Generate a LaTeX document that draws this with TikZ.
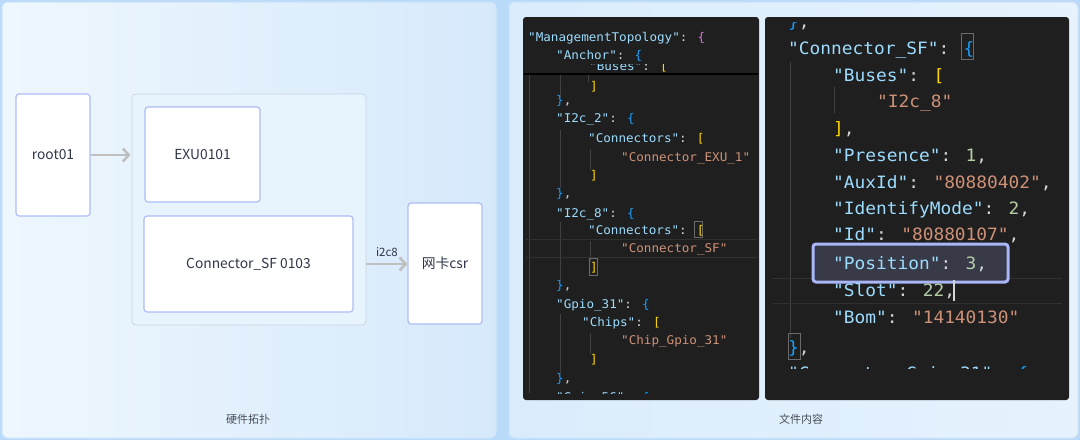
\documentclass[tikz,border=0pt]{standalone}
\usepackage{fontspec}
\setmainfont{Noto Sans CJK SC}
\newfontfamily\codefont[FakeStretch=1.05]{DejaVu Sans Mono}
\usetikzlibrary{positioning,arrows.meta}

\definecolor{bgblue}{HTML}{B9DAF8}
\definecolor{lpA}{HTML}{EEF7FE}
\definecolor{lpB}{HTML}{D6E9FB}
\definecolor{rpA}{HTML}{DAECFC}
\definecolor{rpB}{HTML}{E6F2FD}
\definecolor{panelline}{HTML}{CFE4F8}
\definecolor{boxline}{HTML}{AEBDF6}
\definecolor{grpline}{HTML}{C9D5E1}
\definecolor{grpfill}{HTML}{E7F3FD}
\definecolor{ink}{HTML}{2E3648}
\definecolor{arrowgray}{HTML}{BFBFBF}
\definecolor{captiongray}{HTML}{4A4F5A}
\definecolor{editorbg}{HTML}{1F1F1F}
\definecolor{guidegray}{HTML}{404040}
\definecolor{linegray}{HTML}{303030}
\definecolor{matchgray}{HTML}{6A6A6A}
\definecolor{hlfill}{HTML}{383B47}
\definecolor{hlline}{HTML}{A9B6F7}
\definecolor{ckey}{HTML}{9CDCFE}
\definecolor{cstr}{HTML}{CE9178}
\definecolor{cnum}{HTML}{B5CEA8}
\definecolor{cpun}{HTML}{D4D4D4}
\definecolor{cmag}{HTML}{DA70D6}
\definecolor{cblue}{HTML}{179FFF}
\definecolor{cyel}{HTML}{FFD700}

% json tokens
\newcommand{\jkey}[1]{\textcolor{ckey}{"#1"}\textcolor{cpun}{: }}
\newcommand{\jstr}[1]{\textcolor{cstr}{"#1"}}
\newcommand{\jnum}[1]{\textcolor{cnum}{#1}}
\newcommand{\jp}[1]{\textcolor{cpun}{#1}}
\newcommand{\jbm}[1]{\textcolor{cmag}{#1}}
\newcommand{\jbb}[1]{\textcolor{cblue}{#1}}
\newcommand{\jby}[1]{\textcolor{cyel}{#1}}

\begin{document}
\begin{tikzpicture}[%
	x=1pt, y=-1pt,
	every node/.style={font=\fontsize{13.8}{16}\selectfont, text=ink},
	>=Straight Barb,
	]
	% -------------------------------------------------
	% styles
	\tikzset{
		panel/.style={draw=panelline, line width=1pt, rounded corners=6pt},
		blk/.style={draw=boxline, line width=1.2pt, fill=white, rounded corners=3pt, inner sep=0pt},
		grp/.style={draw=grpline, line width=0.8pt, fill=grpfill, rounded corners=4pt, inner sep=0pt},
		flow/.style={draw=arrowgray, line width=2.6pt, -{Straight Barb[length=6pt, width=13pt]}},
		caption/.style={font=\fontsize{11}{13}\selectfont, text=captiongray},
		editor/.style={fill=editorbg, rounded corners=3pt},
		code/.style={anchor=base west, inner sep=0pt, font=\codefont\fontsize{12}{14}\selectfont},
		bigcode/.style={code, font=\codefont\fontsize{17}{20}\selectfont},
		guide/.style={draw=guidegray, line width=0.8pt},
		curline/.style={draw=linegray, line width=0.8pt},
		match/.style={draw=matchgray, line width=0.8pt},
	}

	\useasboundingbox (0,0) rectangle (1080,440);
	\fill[bgblue] (0,0) rectangle (1080,440);

	% -------------------------------------------------
	% left panel: hardware topology
	\path[panel, left color=lpA, right color=lpB] (2,2) rectangle (496,438);

	\node[grp, minimum width=234pt, minimum height=231pt] (grp) at (249,209.5) {};
	\node[blk, minimum width=74pt, minimum height=122pt] (root) at (53,155) {root01};
	\node[blk, minimum width=115pt, minimum height=95pt] (exu) at (202.5,154.5) {EXU0101};
	\node[blk, minimum width=209pt, minimum height=96pt] (conn) at (248.5,264) {Connector\_SF 0103};
	\node[blk, minimum width=74pt, minimum height=121pt] (nic) at (445,263.5) {网卡csr};

	\draw[flow, shorten >=1pt] (root.east) -- (root.east -| grp.west);
	\draw[flow] (grp.east |- conn) -- node[above=3pt, font=\fontsize{11.5}{13}\selectfont] (bus) {i2c8} (nic.west |- conn);

	\node[caption] (hwcap) at (248,419) {硬件拓扑};

	% -------------------------------------------------
	% right panel: file content
	\path[panel, left color=rpA, right color=rpB] (509,2) rectangle (1078,438);
	\path[editor] (523,17) rectangle (759,400);
	\path[editor] (765,17) rectangle (1069,400);

	% left editor
	\draw[guide] (529,75) -- (529,393);
	\draw[guide] (588,75) -- (588,82);
	\draw[guide] (560,75) -- (560,97)  (560,130) -- (560,188)
		(560,222) -- (560,281)  (560,314) -- (560,374);
	\draw[guide] (590,149) -- (590,170)  (590,241) -- (590,262)  (590,333) -- (590,354);
	\draw[curline] (526,239.5) -- (757,239.5)  (526,257) -- (757,257);
	\draw[match] (694,221) rectangle (702,237)  (589.5,258) rectangle (597.5,275);

	\node[code] (a1) at (528,41) {\jkey{ManagementTopology}\jbm{\{}};
	\node[code] (a2) at (556,59) {\jkey{Anchor}\jbb{\{}};
	\begin{scope}
		\clip (523,64) rectangle (759,74);
		\node[code] (a3) at (589,70) {\jkey{Buses}\jby{[}};
	\end{scope}
	\draw[black, line width=2pt] (524,74) -- (758,74);
	\node[code] (a4) at (590,90) {\jby{]}};
	\node[code] (a5) at (556,104) {\jbb{\}}\jp{,}};
	\node[code] (a6) at (556,122) {\jkey{I2c\_2}\jbb{\{}};
	\node[code] (a7) at (588,142) {\jkey{Connectors}\jby{[}};
	\node[code] (a8) at (621,161) {\jstr{Connector\_EXU\_1}};
	\node[code] (a9) at (590,179) {\jby{]}};
	\node[code] (a10) at (556,197) {\jbb{\}}\jp{,}};
	\node[code] (a11) at (556,217) {\jkey{I2c\_8}\jbb{\{}};
	\node[code] (a12) at (588,234) {\jkey{Connectors}\jby{[}};
	\node[code] (a13) at (621,252) {\jstr{Connector\_SF}};
	\node[code] (a14) at (590,271) {\jby{]}};
	\node[code] (a15) at (556,289) {\jbb{\}}\jp{,}};
	\node[code] (a16) at (556,308) {\jkey{Gpio\_31}\jbb{\{}};
	\node[code] (a17) at (582,326) {\jkey{Chips}\jby{[}};
	\node[code] (a18) at (621,344) {\jstr{Chip\_Gpio\_31}};
	\node[code] (a19) at (590,363) {\jby{]}};
	\node[code] (a20) at (556,382) {\jbb{\}}\jp{,}};
	\begin{scope}
		\clip (523,370) rectangle (759,393.5);
		\node[code] (a21) at (556,401) {\jkey{Gpio\_56}\jbb{\{}};
	\end{scope}

	% right editor
	\draw[guide] (790,62) -- (790,338);
	\draw[guide] (834,87) -- (834,113);
	\draw[curline] (772,278) -- (1062,278)  (772,303) -- (1062,303);
	\draw[match] (961,33) rectangle (973,59)  (788,333) rectangle (800,359);

	\begin{scope}
		\clip (765,22.5) rectangle (1069,40);
		\node[bigcode] (b0) at (788,27) {\jbb{\}}\jp{,}};
	\end{scope}
	\node[bigcode] (b1) at (788,54) {\jkey{Connector\_SF}\jbb{\{}};
	\node[bigcode] (b2) at (833,81) {\jkey{Buses}\jby{[}};
	\node[bigcode] (b3) at (877,107) {\jstr{I2c\_8}};
	\node[bigcode] (b4) at (833,134) {\jby{]}\jp{,}};
	\node[bigcode] (b5) at (833,161) {\jkey{Presence}\jnum{1}\jp{,}};
	\node[bigcode] (b6) at (833,188) {\jkey{AuxId}\jstr{80880402}\jp{,}};
	\node[bigcode] (b7) at (833,214) {\jkey{IdentifyMode}\jnum{2}\jp{,}};
	\node[bigcode] (b8) at (833,240) {\jkey{Id}\jstr{80880107}\jp{,}};
	\draw[hlline, fill=hlfill, line width=3pt, rounded corners=3pt] (813,244) rectangle (1008,282);
	\node[bigcode] (b9) at (833,269) {\jkey{Position}\jnum{3}\jp{,}};
	\node[bigcode] (b10) at (833,296) {\jkey{Slot}\jnum{22}\jp{,}};
	\draw[cpun, line width=1.2pt] (954,280) -- (954,301);
	\node[bigcode] (b11) at (833,323) {\jkey{Bom}\jstr{14140130}};
	\node[bigcode] (b12) at (788,353) {\jbb{\}}\jp{,}};
	\begin{scope}
		\clip (765,360) rectangle (1069,368);
		\node[bigcode] (b13) at (788,379) {\jkey{Connector\_Gpio\_31}\jbb{\{}};
	\end{scope}

	\node[caption] (filecap) at (801,419) {文件内容};

\end{tikzpicture}
\end{document}
